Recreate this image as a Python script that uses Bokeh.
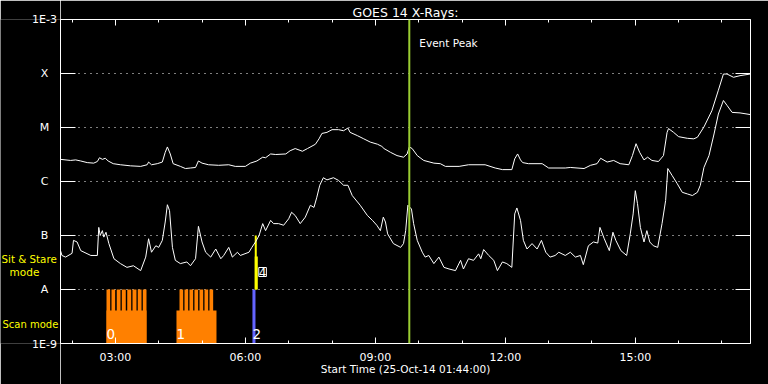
from bokeh.plotting import figure
from bokeh.layouts import row
from bokeh.models import (Range1d, FixedTicker, LinearAxis, LogAxis, Span, Label, Title,
                          CustomJSTickFormatter)
from bokeh.embed import file_html
from bokeh.resources import INLINE

# ---- data (time in minutes since 00:00 UT, 25-Oct-2014) ----
t_start = 104      # 01:44
t_end = 1059.5

long_t = [104,118,125,132,141,150,155,158,162,166,170,177,187,201,215,224,226,230,238,245,
          249,252,256,260,270,277,284,291,295,300,309,323,337,346,360,367,376,384,388,395,
          402,416,422,429,439,446,457,462,466,473,480,489,496,502,505,515,524,533,543,549,
          552,561,570,579,584,587,591,598,607,621,630,637,656,669,692,706,716,729,733,737,
          741,744,752,771,780,803,810,829,838,847,852,861,870,879,891,896,901,906,912,917,
          923,932,939,944,946,953,960,972,981,986,995,1006,1015,1022,1027,1036,1045,1059]
long_log = [-5.59,-5.61,-5.60,-5.62,-5.65,-5.66,-5.63,-5.56,-5.59,-5.57,-5.62,-5.67,-5.69,-5.71,-5.72,-5.69,-5.64,-5.69,-5.67,-5.64,
            -5.46,-5.36,-5.49,-5.67,-5.72,-5.76,-5.75,-5.74,-5.62,-5.66,-5.69,-5.70,-5.69,-5.72,-5.72,-5.66,-5.62,-5.55,-5.56,-5.49,
            -5.50,-5.49,-5.43,-5.39,-5.44,-5.39,-5.31,-5.21,-5.11,-5.09,-5.04,-5.04,-5.06,-5.01,-5.09,-5.15,-5.21,-5.27,-5.31,-5.35,
            -5.39,-5.46,-5.52,-5.55,-5.49,-5.36,-5.39,-5.52,-5.61,-5.66,-5.67,-5.72,-5.72,-5.69,-5.69,-5.75,-5.78,-5.78,-5.58,-5.49,
            -5.60,-5.65,-5.67,-5.67,-5.75,-5.75,-5.74,-5.76,-5.70,-5.67,-5.57,-5.64,-5.61,-5.67,-5.69,-5.52,-5.30,-5.46,-5.60,-5.55,
            -5.61,-5.63,-5.52,-5.09,-5.02,-5.09,-5.17,-5.20,-5.21,-5.18,-4.99,-4.69,-4.31,-4.01,-4.01,-4.07,-4.04,-4.01]

short_t = [104,106,111,120,122,127,132,146,155,157,159,162,164,167,171,178,187,196,205,215,
           222,226,230,236,240,245,249,252,255,259,263,270,279,284,291,295,300,305,312,319,
           326,330,337,342,349,353,365,369,374,379,384,388,395,399,406,413,420,424,429,436,
           443,450,455,459,463,468,473,482,489,496,502,508,519,529,536,542,547,551,554,557,
           565,575,579,582,585,590,593,598,605,609,614,621,628,635,642,651,658,662,669,676,
           683,686,690,697,704,709,716,722,729,733,736,741,745,750,757,764,770,776,782,789,
           794,803,810,817,824,828,835,842,848,851,857,864,869,873,880,888,893,897,900,903,
           907,912,916,920,925,931,937,942,945,951,958,965,972,979,986,990,995,1002,1009,1015,
           1022,1027,1034,1045,1059]
short_log = [-7.28,-7.37,-7.40,-7.33,-7.09,-7.12,-7.28,-7.37,-7.37,-6.85,-7.00,-6.91,-7.03,-6.94,-7.15,-7.43,-7.52,-7.59,-7.56,-7.65,
             -7.40,-7.06,-7.31,-7.19,-7.22,-7.09,-6.75,-6.43,-6.54,-7.22,-7.46,-7.52,-7.49,-7.56,-7.43,-6.83,-7.12,-7.31,-7.40,-7.25,
             -7.43,-7.37,-7.22,-7.40,-7.31,-7.37,-7.31,-7.22,-7.12,-7.00,-6.78,-6.91,-6.72,-6.78,-6.78,-6.81,-6.69,-6.57,-6.63,-6.78,
             -6.66,-6.44,-6.48,-6.29,-6.07,-5.93,-5.97,-5.93,-5.98,-6.07,-6.07,-6.26,-6.44,-6.63,-6.72,-6.81,-6.91,-6.66,-6.75,-6.97,
             -7.15,-7.22,-7.15,-6.91,-6.44,-6.51,-6.78,-7.09,-7.31,-7.40,-7.37,-7.52,-7.40,-7.59,-7.62,-7.65,-7.46,-7.62,-7.43,-7.46,
             -7.34,-7.43,-7.26,-7.37,-7.46,-7.65,-7.49,-7.52,-7.59,-6.60,-6.49,-6.72,-7.09,-7.25,-7.15,-7.25,-7.09,-7.31,-7.40,-7.37,
             -7.31,-7.37,-7.31,-7.40,-7.37,-7.54,-7.19,-7.12,-7.14,-6.85,-7.06,-7.28,-6.94,-7.09,-7.28,-7.37,-6.97,-6.60,-6.17,-6.41,
             -6.85,-7.12,-6.91,-7.12,-7.19,-7.22,-6.78,-6.35,-5.76,-5.89,-6.04,-6.20,-6.23,-6.26,-6.20,-6.07,-5.74,-5.52,-5.12,-4.75,
             -4.50,-4.59,-4.72,-4.73,-4.76]

class_flux = [1e-9, 1e-8, 1e-7, 1e-6, 1e-5, 1e-4, 1e-3]
class_names = ["1E-9", "A", "B", "C", "M", "X", "1E-3"]

tick_minutes = [180, 360, 540, 720, 900]
tick_labels = ["03:00", "06:00", "09:00", "12:00", "15:00"]
minor_minutes = [120, 240, 300, 420, 480, 600, 660, 780, 840, 960, 1020]

event_peak_time = 587

# scan-mode observations (orange)
scan_start = [167.7, 264.6]
scan_end = [223.1, 320.0]
scan_base_top = [4.1e-9, 4.1e-9]
tooth_start = [167.7, 174.6, 181.9, 188.9, 196.4, 203.7, 211.0, 218.0,
               268.8, 275.7, 282.6, 289.5, 296.5, 303.4, 310.3]
tooth_end = [172.8, 179.7, 187.1, 194.4, 201.9, 209.2, 216.2, 223.1,
             273.9, 280.8, 287.7, 294.6, 301.6, 308.5, 315.4]

# other observations
blue_start, blue_end = [369.8], [374.0]
sns_start = [373.0, 373.0]
sns_end = [375.8, 377.2]
sns_bottom = [1e-8, 1e-8]
sns_top = [1e-7, 4.1e-8]

obs_labels = ["0", "1", "2"]
obs_label_times = [167.7, 264.6, 369.8]
sns_label = "4"
sns_label_time = 373.0

long_flux = [10 ** v for v in long_log]
short_flux = [10 ** v for v in short_log]

FONT = "DejaVu Sans"
W, H = 768, 384
LEFT_W = 60
TOP, BOTTOM, RIGHT = 19, 41, 18
LABEL_X = 44

# ---------------- main chart ----------------
p = figure(width=W - LEFT_W, height=H, x_range=Range1d(t_start, t_end),
           y_range=Range1d(1e-9, 1e-3), y_axis_type="log",
           output_backend="svg", toolbar_location=None, title=None,
           min_border_left=0, min_border_right=RIGHT, min_border_top=TOP, min_border_bottom=BOTTOM,
           background_fill_color="black", border_fill_color="black", outline_line_color=None)

blank = CustomJSTickFormatter(code="return ''")


def style(ax, major_in, minor_in, labels=False):
    ax.axis_line_color = "white"
    ax.axis_line_width = 1
    ax.major_tick_line_color = "white"
    ax.minor_tick_line_color = "white"
    ax.major_tick_in = major_in
    ax.major_tick_out = 0
    ax.minor_tick_in = minor_in
    ax.minor_tick_out = 0
    if not labels:
        ax.formatter = blank
        ax.major_label_text_font_size = "1px"
        ax.major_label_text_color = None
        ax.major_label_standoff = 0


bx = p.xaxis[0]
bx.ticker = FixedTicker(ticks=tick_minutes, minor_ticks=minor_minutes)
style(bx, 6, 3, labels=True)
bx.major_label_overrides = dict(zip(tick_minutes, tick_labels))
bx.major_label_text_color = "white"
bx.major_label_text_font = FONT
bx.major_label_text_font_size = "11px"
bx.major_label_standoff = 7
bx.axis_label = "Start Time (25-Oct-14 01:44:00)"
bx.axis_label_text_color = "white"
bx.axis_label_text_font = FONT
bx.axis_label_text_font_size = "10.5px"
bx.axis_label_text_font_style = "normal"
bx.axis_label_standoff = -4

ly = p.yaxis[0]
ly.ticker = FixedTicker(ticks=class_flux, minor_ticks=[])
style(ly, 15, 0)

tx = LinearAxis(ticker=FixedTicker(ticks=tick_minutes, minor_ticks=minor_minutes))
style(tx, 6, 3)
p.add_layout(tx, "above")

ry = LogAxis(ticker=FixedTicker(ticks=class_flux, minor_ticks=[]))
style(ry, 15, 0)
p.add_layout(ry, "right")

p.add_layout(Title(text="GOES 14 X-Rays:", align="center", text_color="white", text_font=FONT,
                   text_font_size="12.5px", text_font_style="normal", standoff=0), "above")

p.xgrid.visible = False
p.ygrid.ticker = FixedTicker(ticks=class_flux, minor_ticks=[])
p.ygrid.grid_line_color = "white"
p.ygrid.grid_line_dash = "1 5"
p.ygrid.grid_line_width = 1

# observation bars
p.quad(left=scan_start, right=scan_end, bottom=[1e-9, 1e-9], top=scan_base_top,
       fill_color="#ff8000", line_color=None)
p.quad(left=tooth_start, right=tooth_end, bottom=[1e-9] * len(tooth_start), top=[1e-8] * len(tooth_start),
       fill_color="#ff8000", line_color=None)
p.quad(left=blue_start, right=blue_end, bottom=[1e-9], top=[1e-8], fill_color="#6464ff", line_color=None)
p.quad(left=sns_start, right=sns_end, bottom=sns_bottom, top=sns_top, fill_color="#ffff00", line_color=None)

# GOES curves
p.line(long_t, long_flux, line_color="white", line_width=1)
p.line(short_t, short_flux, line_color="white", line_width=1)

p.add_layout(Span(location=event_peak_time, dimension="height", line_color="#9acd32", line_width=2))


def lab(fig, **kw):
    kw.setdefault("text_color", "white")
    kw.setdefault("text_font", FONT)
    kw.setdefault("text_baseline", "middle")
    fig.add_layout(Label(**kw))


lab(p, x=event_peak_time, y=300.5, x_units="data", y_units="screen", x_offset=10, text="Event Peak",
    text_align="left", text_font_size="10.5px")
for t, s in zip(obs_label_times, obs_labels):
    lab(p, x=t, y=10, x_units="data", y_units="screen", text=s, text_align="left", text_font_size="13.5px")
lab(p, x=sns_label_time, y=71.5, x_units="data", y_units="screen", x_offset=4, text=sns_label,
    text_align="left", text_font_size="12px", border_line_color="white", border_line_width=1)

# ---------------- left label strip (frame aligned with the chart, same flux scale) ----------------
q = figure(width=LEFT_W, height=H, x_range=Range1d(0, LEFT_W), y_range=p.y_range,
           y_axis_type="log", x_axis_location=None, y_axis_location=None,
           output_backend="svg", toolbar_location=None, title=None,
           min_border_left=0, min_border_right=0, min_border_top=TOP, min_border_bottom=BOTTOM,
           background_fill_color="black", border_fill_color="black", outline_line_color=None)
q.grid.visible = False

# inner class letters (inside the strip's frame)
for f, n in zip(class_flux[1:-1], class_names[1:-1]):
    lab(q, x=LABEL_X, y=f, x_units="screen", y_units="data", text=n, text_align="center",
        text_font_size="11px")


# the two end labels sit on the frame edges: use strip axes so they are not clipped
def end_axis(text, place):
    ax = LinearAxis(ticker=FixedTicker(ticks=[LABEL_X], minor_ticks=[]),
                    major_label_overrides={LABEL_X: text})
    ax.axis_line_color = None
    ax.major_tick_line_color = None
    ax.minor_tick_line_color = None
    ax.major_tick_out = 0
    ax.major_tick_in = 0
    ax.major_label_standoff = -6
    ax.major_label_text_color = "white"
    ax.major_label_text_font = FONT
    ax.major_label_text_font_size = "11px"
    q.add_layout(ax, place)


end_axis(class_names[-1], "above")
end_axis(class_names[0], "below")

lab(q, x=1, y=85, x_units="screen", y_units="screen", text="Sit & Stare", text_align="left",
    text_font_size="10.3px", text_color="#ffff00")
lab(q, x=24, y=72, x_units="screen", y_units="screen", text="mode", text_align="center",
    text_font_size="10.5px", text_color="#ffff00")
lab(q, x=2, y=19.5, x_units="screen", y_units="screen", text="Scan mode", text_align="left",
    text_font_size="10px", text_color="#ffff00")

layout = row(q, p, spacing=0)
open("out.html", "w").write(file_html(layout, INLINE))
